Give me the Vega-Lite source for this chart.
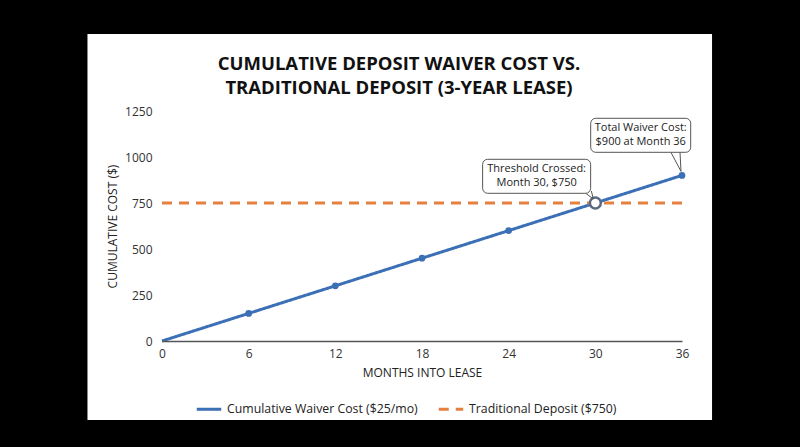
{
  "$schema": "https://vega.github.io/schema/vega-lite/v6.json",
  "autosize": {"type": "none"},
  "padding": {"left": 162, "top": 111, "right": 118, "bottom": 106},
  "width": 520,
  "height": 230,
  "background": "black",
  "title": {
    "text": ["CUMULATIVE DEPOSIT WAIVER COST VS.", "TRADITIONAL DEPOSIT (3-YEAR LEASE)"],
    "fontSize": 18.5,
    "fontWeight": "bold",
    "font": "Open Sans",
    "color": "#111111",
    "anchor": "middle",
    "lineHeight": 24,
    "dx": -23,
    "offset": -63
  },
  "config": {
    "font": "Open Sans",
    "view": {"stroke": null},
    "axis": {
      "labelFont": "Open Sans",
      "titleFont": "Open Sans",
      "labelFontSize": 12,
      "titleFontSize": 12,
      "titleFontWeight": "normal",
      "labelColor": "#333333",
      "titleColor": "#222222",
      "ticks": false,
      "gridColor": "#e2e2e2",
      "gridWidth": 1
    },
    "legend": {
      "labelFont": "Open Sans",
      "labelFontSize": 12.3,
      "labelColor": "#222222",
      "labelLimit": 400
    }
  },
  "datasets": {
    "series": [
      {"month": 0, "cost": 0, "series": "Cumulative Waiver Cost ($25/mo)"},
      {"month": 6, "cost": 150, "series": "Cumulative Waiver Cost ($25/mo)"},
      {"month": 12, "cost": 300, "series": "Cumulative Waiver Cost ($25/mo)"},
      {"month": 18, "cost": 450, "series": "Cumulative Waiver Cost ($25/mo)"},
      {"month": 24, "cost": 600, "series": "Cumulative Waiver Cost ($25/mo)"},
      {"month": 30, "cost": 750, "series": "Cumulative Waiver Cost ($25/mo)"},
      {"month": 36, "cost": 900, "series": "Cumulative Waiver Cost ($25/mo)"},
      {"month": 0, "cost": 750, "series": "Traditional Deposit ($750)"},
      {"month": 36, "cost": 750, "series": "Traditional Deposit ($750)"}
    ],
    "threshold": [{"month": 30, "cost": 750, "label": ["Threshold Crossed:", "Month 30, $750"]}],
    "total": [{"month": 36, "cost": 900, "label": ["Total Waiver Cost:", "$900 at Month 36"]}]
  },
  "layer": [
    {
      "data": {"values": [{}]},
      "mark": {"type": "rect", "fill": "white", "clip": false},
      "encoding": {
        "x": {"datum": -5.16, "type": "quantitative"},
        "x2": {"datum": 38.08},
        "y": {"datum": -429, "type": "quantitative"},
        "y2": {"datum": 1668}
      }
    },
    {
      "data": {"name": "series"},
      "mark": {"type": "line", "strokeWidth": 3},
      "encoding": {
        "x": {
          "field": "month", "type": "quantitative",
          "scale": {"domain": [0, 36], "nice": false},
          "axis": {"values": [0, 6, 12, 18, 24, 30, 36], "format": "d", "labelFlush": false, "title": "MONTHS INTO LEASE", "grid": false, "domainColor": "#555555", "domainWidth": 1.5, "labelPadding": 7, "titlePadding": 8, "zindex": 1}
        },
        "y": {
          "field": "cost", "type": "quantitative",
          "scale": {"domain": [0, 1250], "nice": false},
          "axis": {"values": [0, 250, 500, 750, 1000, 1250], "format": "d", "labelFlush": false, "title": "CUMULATIVE COST ($)", "domain": false, "labelPadding": 10, "titlePadding": 5, "zindex": 1}
        },
        "color": {
          "field": "series", "type": "nominal",
          "scale": {"domain": ["Cumulative Waiver Cost ($25/mo)", "Traditional Deposit ($750)"], "range": ["#3b6fb6", "#e5813e"]},
          "legend": {"title": null, "orient": "none", "legendX": 33, "legendY": 284, "direction": "horizontal", "symbolType": "stroke", "symbolStrokeWidth": 3, "symbolSize": 600, "columnPadding": 14, "labelOffset": 4}
        },
        "strokeDash": {
          "field": "series", "type": "nominal",
          "scale": {"domain": ["Cumulative Waiver Cost ($25/mo)", "Traditional Deposit ($750)"], "range": [[1, 0], [10, 7]]},
          "legend": {"title": null, "orient": "none", "legendX": 33, "legendY": 284, "direction": "horizontal", "symbolType": "stroke", "symbolStrokeWidth": 3, "symbolSize": 600, "columnPadding": 14, "labelOffset": 4}
        }
      }
    },
    {
      "data": {"name": "series"},
      "transform": [{"filter": "datum.series === 'Cumulative Waiver Cost ($25/mo)' && datum.month > 0 && datum.month !== 30"}],
      "mark": {"type": "point", "filled": true, "size": 45, "color": "#3b6fb6", "opacity": 1},
      "encoding": {
        "x": {"field": "month", "type": "quantitative"},
        "y": {"field": "cost", "type": "quantitative"}
      }
    },
    {
      "data": {"name": "threshold"},
      "mark": {"type": "point", "filled": true, "size": 120, "fill": "white", "stroke": "#5a6a80", "strokeWidth": 2.5, "opacity": 1},
      "encoding": {
        "x": {"field": "month", "type": "quantitative"},
        "y": {"field": "cost", "type": "quantitative"}
      }
    },
    {
      "data": {"name": "threshold"},
      "mark": {"type": "rule", "stroke": "#555555", "strokeWidth": 1, "xOffset": -10, "yOffset": -10, "x2Offset": -2, "y2Offset": -4},
      "encoding": {
        "x": {"field": "month", "type": "quantitative"},
        "y": {"field": "cost", "type": "quantitative"},
        "x2": {"field": "month"},
        "y2": {"field": "cost"}
      }
    },
    {
      "data": {"name": "threshold"},
      "mark": {"type": "rule", "stroke": "#555555", "strokeWidth": 1, "xOffset": -4, "yOffset": -12, "x2Offset": -2, "y2Offset": -4},
      "encoding": {
        "x": {"field": "month", "type": "quantitative"},
        "y": {"field": "cost", "type": "quantitative"},
        "x2": {"field": "month"},
        "y2": {"field": "cost"}
      }
    },
    {
      "data": {"name": "threshold"},
      "mark": {"type": "rect", "width": 108, "height": 34, "xOffset": -58.7, "yOffset": -26.7, "fill": "white", "stroke": "#555555", "strokeWidth": 1, "cornerRadius": 5},
      "encoding": {
        "x": {"field": "month", "type": "quantitative"},
        "y": {"field": "cost", "type": "quantitative"}
      }
    },
    {
      "data": {"name": "threshold"},
      "mark": {"type": "text", "fontSize": 11, "lineHeight": 14, "color": "#222222", "align": "center", "baseline": "middle", "dx": -58.7, "dy": -33.7},
      "encoding": {
        "x": {"field": "month", "type": "quantitative"},
        "y": {"field": "cost", "type": "quantitative"},
        "text": {"field": "label"}
      }
    },
    {
      "data": {"name": "total"},
      "mark": {"type": "rule", "stroke": "#555555", "strokeWidth": 1, "xOffset": -11, "yOffset": -23, "x2Offset": -1, "y2Offset": -4},
      "encoding": {
        "x": {"field": "month", "type": "quantitative"},
        "y": {"field": "cost", "type": "quantitative"},
        "x2": {"field": "month"},
        "y2": {"field": "cost"}
      }
    },
    {
      "data": {"name": "total"},
      "mark": {"type": "rule", "stroke": "#555555", "strokeWidth": 1, "xOffset": -2, "yOffset": -23, "x2Offset": -1, "y2Offset": -4},
      "encoding": {
        "x": {"field": "month", "type": "quantitative"},
        "y": {"field": "cost", "type": "quantitative"},
        "x2": {"field": "month"},
        "y2": {"field": "cost"}
      }
    },
    {
      "data": {"name": "total"},
      "mark": {"type": "rect", "width": 100, "height": 34, "xOffset": -41.3, "yOffset": -40.1, "fill": "white", "stroke": "#555555", "strokeWidth": 1, "cornerRadius": 5},
      "encoding": {
        "x": {"field": "month", "type": "quantitative"},
        "y": {"field": "cost", "type": "quantitative"}
      }
    },
    {
      "data": {"name": "total"},
      "mark": {"type": "text", "fontSize": 11, "lineHeight": 14, "color": "#222222", "align": "center", "baseline": "middle", "dx": -41.3, "dy": -47.1},
      "encoding": {
        "x": {"field": "month", "type": "quantitative"},
        "y": {"field": "cost", "type": "quantitative"},
        "text": {"field": "label"}
      }
    }
  ]
}
